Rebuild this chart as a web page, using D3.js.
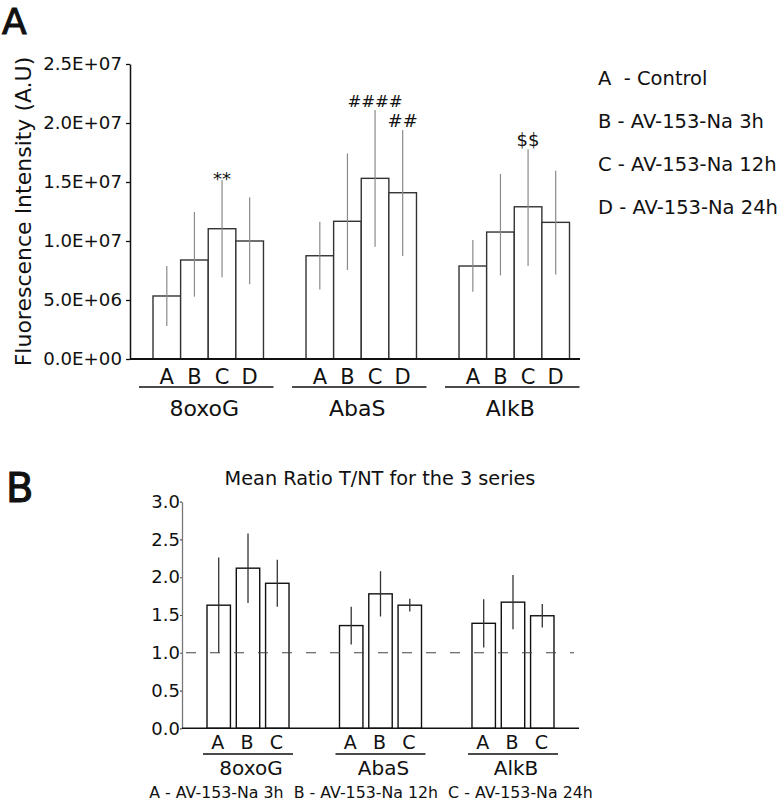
<!DOCTYPE html>
<html>
<head>
<meta charset="utf-8">
<script src="https://cdn.jsdelivr.net/npm/d3@7"></script>
<style>
  html, body { margin: 0; padding: 0; background: #fff; }
  svg text { font-family: "DejaVu Sans", "Open Sans", sans-serif; fill: #111; }
</style>
</head>
<body>
<div id="chart"></div>
<script>
// ---------------- DATA ----------------
// Panel A
const groupsA = ["8oxoG", "AbaS", "AlkB"];
const condsA = ["A", "B", "C", "D"];
const meanA = [
  [5.34e6, 8.39e6, 11.04e6, 10.0e6],
  [8.75e6, 11.67e6, 15.31e6, 14.09e6],
  [7.88e6, 10.76e6, 12.9e6, 11.58e6]
];
const upperA = [
  [7.88e6, 12.46e6, 15.17e6, 13.7e6],
  [11.63e6, 17.42e6, 21.1e6, 19.4e6],
  [10.08e6, 15.68e6, 17.77e6, 15.96e6]
];
const lowerA = [
  [2.8e6, 5.28e6, 6.92e6, 6.33e6],
  [5.9e6, 7.54e6, 9.52e6, 8.73e6],
  [5.7e6, 7.09e6, 7.88e6, 7.17e6]
];
const yTicksA = [0, 5e6, 1e7, 1.5e7, 2e7, 2.5e7];
const sigGroupA = ["8oxoG", "AbaS", "AbaS", "AlkB"];
const sigCondA = ["C", "C", "D", "C"];
const sigLabelA = ["**", "####", "##", "$$"];
const legendA = ["A  - Control", "B - AV-153-Na 3h", "C - AV-153-Na 12h", "D - AV-153-Na 24h"];

// Panel B
const groupsB = ["8oxoG", "AbaS", "AlkB"];
const condsB = ["A", "B", "C"];
const meanB = [
  [1.63, 2.12, 1.92],
  [1.36, 1.78, 1.63],
  [1.39, 1.67, 1.49]
];
const errB = [
  [0.63, 0.46, 0.31],
  [0.25, 0.30, 0.085],
  [0.32, 0.36, 0.155]
];
const yTicksB = [0, 0.5, 1.0, 1.5, 2.0, 2.5, 3.0];
const refLineB = 1.0;
const titleB = "Mean Ratio T/NT for the 3 series";
const legendB = "A - AV-153-Na 3h  B - AV-153-Na 12h  C - AV-153-Na 24h";

// ---------------- DRAW ----------------
const W = 784, H = 802;
const FONT = '"DejaVu Sans", "Open Sans", sans-serif';
const svg = d3.select("#chart").append("svg")
  .attr("width", W).attr("height", H);

function sciFmt(d) {
  if (d === 0) return "0.0E+00";
  const e = Math.floor(Math.log10(d));
  const m = d / Math.pow(10, e);
  return m.toFixed(1) + "E+" + String(e).padStart(2, "0");
}

// ===== Panel A =====
const A = { left: 130, right: 580, top: 64, bottom: 359 };
const xA = d3.scaleBand().domain(groupsA).range([153, 569.5]).paddingInner(0.278).paddingOuter(0);
const xA1 = d3.scaleBand().domain(condsA).range([0, xA.bandwidth()]).padding(0);
const yA = d3.scaleLinear().domain([0, 2.5e7]).range([A.bottom, A.top]);

svg.append("text").attr("x", 2).attr("y", 34)
  .attr("font-size", 36).attr("stroke", "#111").attr("stroke-width", 1.1).text("A");

// y axis
const gyA = svg.append("g").attr("transform", `translate(${A.left},0)`)
  .call(d3.axisLeft(yA).tickValues(yTicksA).tickFormat(sciFmt).tickSize(4).tickSizeOuter(0).tickPadding(4));
gyA.select(".domain").attr("stroke", "#111").attr("stroke-width", 1.5);
gyA.selectAll(".tick line").attr("stroke", "#111").attr("stroke-width", 1.3);
gyA.selectAll(".tick text").attr("font-size", 18.2).attr("fill", "#111").style("font-family", FONT);

svg.append("text")
  .attr("transform", `translate(31,${(A.top + A.bottom) / 2 + 0}) rotate(-90)`)
  .attr("text-anchor", "middle").attr("font-size", 22)
  .text("Fluorescence Intensity (A.U)");

// bars
groupsA.forEach((g, gi) => {
  condsA.forEach((c, ci) => {
    const x0 = xA(g) + xA1(c);
    svg.append("rect")
      .attr("x", x0).attr("y", yA(meanA[gi][ci]))
      .attr("width", xA1.bandwidth()).attr("height", yA(0) - yA(meanA[gi][ci]))
      .attr("fill", "#fff").attr("stroke", "#333").attr("stroke-width", 1.4);
  });
});
// error bars
groupsA.forEach((g, gi) => {
  condsA.forEach((c, ci) => {
    const cx = xA(g) + xA1(c) + xA1.bandwidth() / 2;
    svg.append("line")
      .attr("x1", cx).attr("x2", cx)
      .attr("y1", yA(lowerA[gi][ci])).attr("y2", yA(upperA[gi][ci]))
      .attr("stroke", "#8a8a8a").attr("stroke-width", 1.2);
  });
});
// baseline
svg.append("line").attr("x1", A.left).attr("x2", A.right)
  .attr("y1", yA(0)).attr("y2", yA(0)).attr("stroke", "#111").attr("stroke-width", 2);

// significance labels
sigLabelA.forEach((lab, i) => {
  const gi = groupsA.indexOf(sigGroupA[i]);
  const ci = condsA.indexOf(sigCondA[i]);
  const cx = xA(sigGroupA[i]) + xA1(sigCondA[i]) + xA1.bandwidth() / 2;
  const yTop = yA(upperA[gi][ci]);
  svg.append("text").attr("x", cx).attr("y", yTop - 3 + (lab[0] === "*" ? 8 : 0))
    .attr("text-anchor", "middle").attr("font-size", lab.length > 2 ? 16.5 : 18).text(lab);
});

// x labels
groupsA.forEach(g => {
  condsA.forEach(c => {
    svg.append("text").attr("x", xA(g) + xA1(c) + xA1.bandwidth() / 2).attr("y", 384)
      .attr("text-anchor", "middle").attr("font-size", 21).text(c);
  });
  svg.append("line").attr("x1", xA(g) - 14).attr("x2", xA(g) + xA.bandwidth() + 10)
    .attr("y1", 387).attr("y2", 387).attr("stroke", "#111").attr("stroke-width", 1.3);
  svg.append("text").attr("x", xA(g) + xA.bandwidth() / 2 - 4).attr("y", 416)
    .attr("text-anchor", "middle").attr("font-size", 22).text(g);
});

// legend A
legendA.forEach((t, i) => {
  svg.append("text").attr("x", 598).attr("y", 85 + i * 43)
    .attr("font-size", 19.5).attr("xml:space", "preserve").style("white-space", "pre").text(t);
});

// ===== Panel B =====
const B = { left: 182, right: 579, top: 501.7, bottom: 728.3 };
const xB = d3.scaleBand().domain(groupsB).range([207, 554]).paddingInner(0.381).paddingOuter(0);
const xB1 = d3.scaleBand().domain(condsB).range([0, xB.bandwidth()]).paddingInner(0.2).paddingOuter(0);
const yB = d3.scaleLinear().domain([0, 3]).range([B.bottom, B.top]);

svg.append("text").attr("x", 6).attr("y", 502)
  .attr("font-size", 40).attr("stroke", "#111").attr("stroke-width", 1.1).text("B");

svg.append("text").attr("x", 380).attr("y", 485)
  .attr("text-anchor", "middle").attr("font-size", 19.3).text(titleB);

const gyB = svg.append("g").attr("transform", `translate(${B.left},0)`)
  .call(d3.axisLeft(yB).tickValues(yTicksB).tickFormat(d3.format(".1f")).tickSize(2).tickSizeOuter(0).tickPadding(0));
gyB.select(".domain").attr("stroke", "#777").attr("stroke-width", 1.3);
gyB.selectAll(".tick line").attr("stroke", "#555").attr("stroke-width", 1.2);
gyB.selectAll(".tick text").attr("font-size", 18).attr("fill", "#111").style("font-family", FONT);

groupsB.forEach((g, gi) => {
  condsB.forEach((c, ci) => {
    svg.append("rect")
      .attr("x", xB(g) + xB1(c)).attr("y", yB(meanB[gi][ci]))
      .attr("width", xB1.bandwidth()).attr("height", yB(0) - yB(meanB[gi][ci]))
      .attr("fill", "#fff").attr("stroke", "#111").attr("stroke-width", 1.4);
  });
});
groupsB.forEach((g, gi) => {
  condsB.forEach((c, ci) => {
    const cx = xB(g) + xB1(c) + xB1.bandwidth() / 2;
    svg.append("line").attr("x1", cx).attr("x2", cx)
      .attr("y1", yB(meanB[gi][ci] - errB[gi][ci])).attr("y2", yB(meanB[gi][ci] + errB[gi][ci]))
      .attr("stroke", "#333").attr("stroke-width", 1.3);
  });
});
// reference dashed line
svg.append("line").attr("x1", B.left + 4).attr("x2", 574)
  .attr("y1", yB(refLineB)).attr("y2", yB(refLineB))
  .attr("stroke", "#444").attr("stroke-width", 1.1).attr("stroke-dasharray", "10,14");
// baseline
svg.append("line").attr("x1", B.left).attr("x2", B.right)
  .attr("y1", yB(0)).attr("y2", yB(0)).attr("stroke", "#111").attr("stroke-width", 1.6);

groupsB.forEach(g => {
  condsB.forEach(c => {
    svg.append("text").attr("x", xB(g) + xB1(c) + xB1.bandwidth() / 2 - 1).attr("y", 749)
      .attr("text-anchor", "middle").attr("font-size", 19).text(c);
  });
  svg.append("line").attr("x1", xB(g) - 4).attr("x2", xB(g) + xB.bandwidth() + 4)
    .attr("y1", 754).attr("y2", 754).attr("stroke", "#111").attr("stroke-width", 1.3);
  svg.append("text").attr("x", xB(g) + xB.bandwidth() / 2 + 3).attr("y", 775)
    .attr("text-anchor", "middle").attr("font-size", 20).text(g);
});

svg.append("text").attr("x", 371).attr("y", 798)
  .attr("text-anchor", "middle").attr("font-size", 15.8)
  .attr("xml:space", "preserve").style("white-space", "pre").text(legendB);
</script>
</body>
</html>
